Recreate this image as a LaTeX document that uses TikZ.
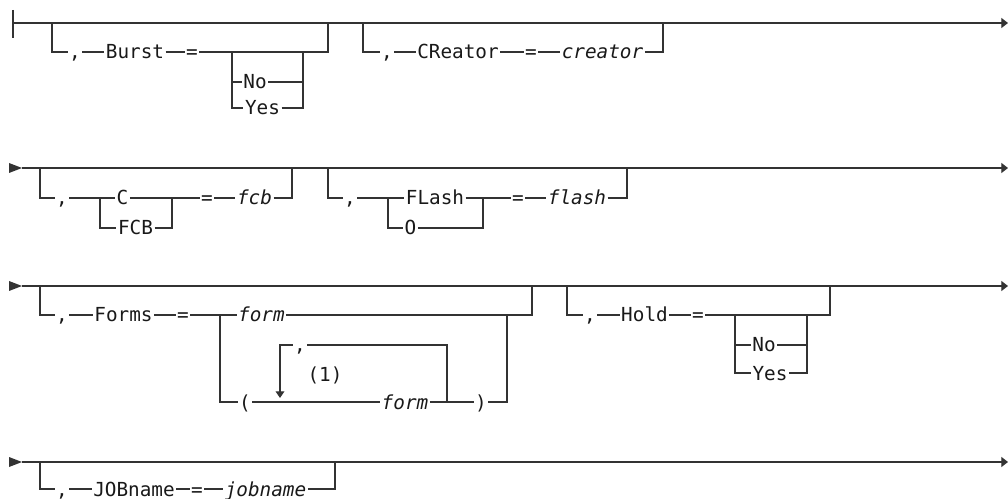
\documentclass[tikz,border=0pt]{standalone}
\usepackage{fontspec}
\setmonofont{DejaVu Sans Mono}
\usetikzlibrary{arrows.meta}
\definecolor{ink}{gray}{0.2}
\begin{document}
\begin{tikzpicture}[x=0.75pt,y=-0.75pt,
  rr/.style={draw=ink,line width=0.95pt},
  endarrow/.style={rr,-{Triangle[length=5pt,width=7.5pt]}},
  looparrow/.style={rr,-{Triangle[length=5pt,width=6.5pt]}},
  kw/.style={inner sep=0pt,inner xsep=1pt,text=black!90,
    font=\ttfamily\fontsize{14.5}{14.5}\selectfont,text height=10.5pt,text depth=0pt},
  var/.style={kw,font=\ttfamily\itshape\fontsize{14.5}{14.5}\selectfont}]
\useasboundingbox (0,0) rectangle (1008,499);

% ---------------- Row 1 ----------------
\coordinate (r1s) at (13,23);
\coordinate (r1e) at (1008,23);
\coordinate (r1bt) at (13,10);
\coordinate (r1bb) at (13,38);
\draw[rr] (r1bt) -- (r1bb);
\draw[endarrow] (r1s) -- (r1e);

% Burst
\coordinate (b1L) at (52,23);
\coordinate (b1R) at (328,23);
\coordinate (b1cl) at (232,52);
\coordinate (b1cr) at (303,52);
\node[kw] (b1c) at (75,52) {,};
\node[kw] (b1k) at (135,52) {Burst};
\node[kw] (b1q) at (192,52) {=};
\node[kw] (b1no) at (255,82) {No};
\node[kw] (b1yes) at (262.5,108) {Yes};
\draw[rr] (b1L) |- (b1c.west);
\draw[rr] (b1c.east) -- (b1k.west);
\draw[rr] (b1k.east) -- (b1q.west);
\draw[rr] (b1q.east) -| (b1R);
\draw[rr] (b1cl) |- (b1yes.west);
\draw[rr] (b1cl |- b1no.west) -- (b1no.west);
\draw[rr] (b1no.east) -- (b1cr |- b1no.east);
\draw[rr] (b1yes.east) -| (b1cr);

% CReator
\coordinate (cr1L) at (363,23);
\coordinate (cr1R) at (663,23);
\node[kw] (cr1c) at (387,52) {,};
\node[kw] (cr1k) at (458,52) {CReator};
\node[kw] (cr1q) at (531,52) {=};
\node[var] (cr1v) at (602.5,52) {creator};
\draw[rr] (cr1L) |- (cr1c.west);
\draw[rr] (cr1c.east) -- (cr1k.west);
\draw[rr] (cr1k.east) -- (cr1q.west);
\draw[rr] (cr1q.east) -- (cr1v.west);
\draw[rr] (cr1v.east) -| (cr1R);

% ---------------- Row 2 ----------------
\fill[ink] (9,163) -- (22,168) -- (9,173) -- cycle;
\coordinate (r2s) at (22,168);
\coordinate (r2e) at (1008,168);
\draw[endarrow] (r2s) -- (r2e);

% C / FCB
\coordinate (c2L) at (40,168);
\coordinate (c2R) at (292,168);
\coordinate (c2cl) at (100,198);
\coordinate (c2cr) at (172,198);
\node[kw] (c2c) at (62,198) {,};
\node[kw] (c2C) at (122.5,198) {C};
\node[kw] (c2fcb) at (135.5,228) {FCB};
\node[kw] (c2q) at (207,198) {=};
\node[var] (c2v) at (254.5,198) {fcb};
\draw[rr] (c2L) |- (c2c.west);
\draw[rr] (c2c.east) -- (c2C.west);
\draw[rr] (c2cl) |- (c2fcb.west);
\draw[rr] (c2C.east) -- (c2q.west);
\draw[rr] (c2fcb.east) -| (c2cr);
\draw[rr] (c2q.east) -- (c2v.west);
\draw[rr] (c2v.east) -| (c2R);

% FLash / O
\coordinate (f2L) at (328,168);
\coordinate (f2R) at (627,168);
\coordinate (f2cl) at (388,198);
\coordinate (f2cr) at (483,198);
\node[kw] (f2c) at (350,198) {,};
\node[kw] (f2k) at (435,198) {FLash};
\node[kw] (f2o) at (410.5,228) {O};
\node[kw] (f2q) at (518,198) {=};
\node[var] (f2v) at (577,198) {flash};
\draw[rr] (f2L) |- (f2c.west);
\draw[rr] (f2c.east) -- (f2k.west);
\draw[rr] (f2cl) |- (f2o.west);
\draw[rr] (f2k.east) -- (f2q.west);
\draw[rr] (f2o.east) -| (f2cr);
\draw[rr] (f2q.east) -- (f2v.west);
\draw[rr] (f2v.east) -| (f2R);

% ---------------- Row 3 ----------------
\fill[ink] (9,281) -- (22,286) -- (9,291) -- cycle;
\coordinate (r3s) at (22,286);
\coordinate (r3e) at (1008,286);
\draw[endarrow] (r3s) -- (r3e);

% Forms
\coordinate (fo3L) at (40,286);
\coordinate (fo3R) at (532,286);
\coordinate (fo3cl) at (220,315);
\coordinate (fo3cr) at (507,315);
\node[kw] (fo3c) at (62,315) {,};
\node[kw] (fo3k) at (123.5,315) {Forms};
\node[kw] (fo3q) at (183,315) {=};
\node[var] (fo3f) at (261.5,315) {form};
\node[kw] (fo3lp) at (245,402) {(};
\node[var] (fo3f2) at (405,402) {form};
\node[kw] (fo3rp) at (481,402) {)};
\node[kw] (fo3sep) at (300,345) {,};
\node[kw] (fo3n) at (325,375) {(1)};
\coordinate (fo3rl) at (447,402);
\coordinate (fo3al) at (280,398);
\draw[rr] (fo3L) |- (fo3c.west);
\draw[rr] (fo3c.east) -- (fo3k.west);
\draw[rr] (fo3k.east) -- (fo3q.west);
\draw[rr] (fo3q.east) -- (fo3f.west);
\draw[rr] (fo3f.east) -| (fo3R);
\draw[rr] (fo3cl) |- (fo3lp.west);
\draw[rr] (fo3lp.east) -- (fo3f2.west);
\draw[rr] (fo3f2.east) -- (fo3rp.west);
\draw[rr] (fo3rp.east) -| (fo3cr);
\draw[rr] (fo3rl) |- (fo3sep.east);
\draw[looparrow] (fo3sep.west) -| (fo3al);

% Hold
\coordinate (h3L) at (567,286);
\coordinate (h3R) at (830,286);
\coordinate (h3cl) at (735,315);
\coordinate (h3cr) at (807,315);
\node[kw] (h3c) at (590,315) {,};
\node[kw] (h3k) at (644.5,315) {Hold};
\node[kw] (h3q) at (698,315) {=};
\node[kw] (h3no) at (764,345) {No};
\node[kw] (h3yes) at (770,373) {Yes};
\draw[rr] (h3L) |- (h3c.west);
\draw[rr] (h3c.east) -- (h3k.west);
\draw[rr] (h3k.east) -- (h3q.west);
\draw[rr] (h3q.east) -| (h3R);
\draw[rr] (h3cl) |- (h3yes.west);
\draw[rr] (h3cl |- h3no.west) -- (h3no.west);
\draw[rr] (h3no.east) -- (h3cr |- h3no.east);
\draw[rr] (h3yes.east) -| (h3cr);

% ---------------- Row 4 ----------------
\fill[ink] (9,457) -- (22,462) -- (9,467) -- cycle;
\coordinate (r4s) at (22,462);
\coordinate (r4e) at (1008,462);
\draw[endarrow] (r4s) -- (r4e);

\coordinate (j4L) at (40,462);
\coordinate (j4R) at (335,462);
\node[kw] (j4c) at (62,489) {,};
\node[kw] (j4k) at (134,489) {JOBname};
\node[kw] (j4q) at (197,489) {=};
\node[var] (j4v) at (265.5,489) {jobname};
\draw[rr] (j4L) |- (j4c.west);
\draw[rr] (j4c.east) -- (j4k.west);
\draw[rr] (j4k.east) -- (j4q.west);
\draw[rr] (j4q.east) -- (j4v.west);
\draw[rr] (j4v.east) -| (j4R);
\end{tikzpicture}
\end{document}
